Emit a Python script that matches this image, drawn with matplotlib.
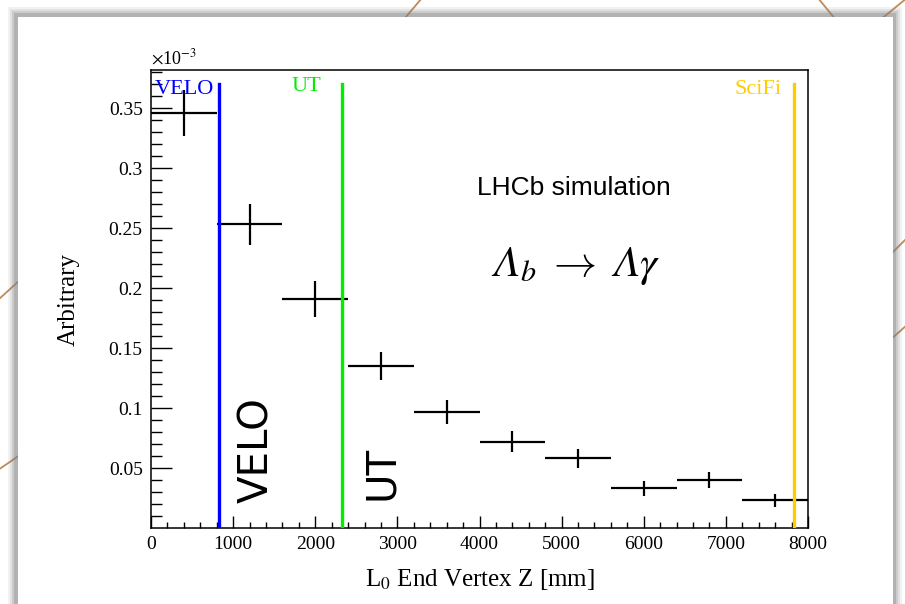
import numpy as np
import matplotlib
matplotlib.use("Agg")
from matplotlib import pyplot as plt
from matplotlib.patches import Rectangle
from matplotlib.lines import Line2D

# L0 end vertex z histogram (values in units of 1e-3)
bin_edges = [0, 800, 1600, 2400, 3200, 4000, 4800, 5600, 6400, 7200, 8000]
values = [0.346, 0.253, 0.191, 0.135, 0.097, 0.072, 0.058, 0.033, 0.040, 0.023]
errors = [0.019, 0.017, 0.015, 0.012, 0.010, 0.009, 0.008, 0.006, 0.007, 0.0055]

# sub-detector positions [mm]
det_names = ['VELO', 'UT', 'SciFi']
det_z = [825, 2325, 7835]
det_colors = ['#0000ff', '#00ee00', '#ffcc00']

plt.rcParams['mathtext.fontset'] = 'stix'
# italic greek capitals for the decay label (used through math_fontfamily='custom')
plt.rcParams['mathtext.rm'] = 'STIXGeneral:italic'
plt.rcParams['mathtext.it'] = 'STIXGeneral:italic'
plt.rcParams['mathtext.sf'] = 'STIXGeneral'
serif = 'Liberation Serif'

fig = plt.figure(figsize=(9.05, 6.04), dpi=100)
fig.patch.set_facecolor('white')

# slide decoration behind the panel
for (x0, y0, x1, y1) in [(405, 18, 422, -2), (818, -2, 836, 20), (880, 20, 907, -2),
                         (-2, 300, 20, 280), (-2, 470, 20, 455), (890, 255, 907, 238),
                         (890, 340, 907, 325)]:
    fig.add_artist(Line2D([x0 / 905, x1 / 905], [1 - y0 / 604, 1 - y1 / 604],
                          color='#c08a5a', lw=1.3, transform=fig.transFigure, zorder=0))
# shadow + white panel
for i, a in enumerate([0.10, 0.15, 0.22, 0.32]):
    d = (4 - i) * 2
    fig.add_artist(Rectangle(((16 - d) / 905, -0.05), (878 + 2 * d) / 905, (1 - 15 / 604 + d / 604) + 0.05,
                             transform=fig.transFigure, facecolor='#808080', edgecolor='none',
                             alpha=a, zorder=1))
fig.add_artist(Rectangle((18 / 905, -0.05), 875 / 905, 1 - 17 / 604 + 0.05,
                         transform=fig.transFigure, facecolor='white', edgecolor='none', zorder=2))

ax = fig.add_axes([151 / 905, 1 - 528 / 604, 657 / 905, 458 / 604], zorder=3)
ax.set_xlim(0, 8000)
ax.set_ylim(0, 0.3817)

edges = np.array(bin_edges)
centers = (edges[:-1] + edges[1:]) / 2
half = (edges[1:] - edges[:-1]) / 2
ax.errorbar(centers, values, xerr=half, yerr=errors, fmt='none', ecolor='black',
            elinewidth=1.6, capsize=0, zorder=3)

for name, z, c in zip(det_names, det_z, det_colors):
    ax.plot([z, z], [0, 0.37], color=c, lw=2.4, zorder=4)
ax.text(50, 0.3655, 'VELO', color=det_colors[0], fontsize=16, family=serif, va='center', ha='left')
ax.text(1890, 0.368, 'UT', color=det_colors[1], fontsize=16, family=serif, va='center', ha='center')
ax.text(7675, 0.3655, 'SciFi', color=det_colors[2], fontsize=16, family=serif, va='center', ha='right')

ax.text(1290, 0.065, 'VELO', rotation=90, fontsize=29, family='DejaVu Sans', va='center', ha='center')
ax.text(2810, 0.046, 'UT', rotation=90, fontsize=29, family='DejaVu Sans', va='center', ha='center')
ax.text(5150, 0.283, 'LHCb simulation', fontsize=19, family='Liberation Sans', ha='center', va='center')
ax.text(5170, 0.218, r'$\Lambda_b\ \rightarrow\ \Lambda\gamma$', fontsize=31,
        ha='center', va='center', math_fontfamily='custom')

ax.set_xticks(np.arange(0, 8001, 1000))
ax.set_xticks(np.arange(0, 8001, 200), minor=True)
ax.set_yticks([0.05, 0.1, 0.15, 0.2, 0.25, 0.3, 0.35])
ax.set_yticklabels(['0.05', '0.1', '0.15', '0.2', '0.25', '0.3', '0.35'])
ax.set_yticks(np.arange(0.01, 0.381, 0.01), minor=True)
ax.tick_params(axis='x', which='major', direction='in', length=9, width=1, labelsize=14, pad=6)
ax.tick_params(axis='x', which='minor', direction='in', length=4.5, width=1)
ax.tick_params(axis='y', which='major', direction='in', length=15, width=1, labelsize=14, pad=6)
ax.tick_params(axis='y', which='minor', direction='in', length=8, width=1)
for lab in ax.get_xticklabels() + ax.get_yticklabels():
    lab.set_family(serif)
for s in ax.spines.values():
    s.set_linewidth(1.1)

ax.set_ylabel('Arbitrary', fontsize=18, family=serif, labelpad=21)
ax.set_xlabel(r'L$_0$ End Vertex Z [mm]', fontsize=18, family=serif, labelpad=10)
ax.text(0, 1.004, r'$\times$10$^{-3}$', transform=ax.transAxes, fontsize=13, family=serif,
        ha='left', va='bottom')

fig.savefig('out.png', dpi=100)
